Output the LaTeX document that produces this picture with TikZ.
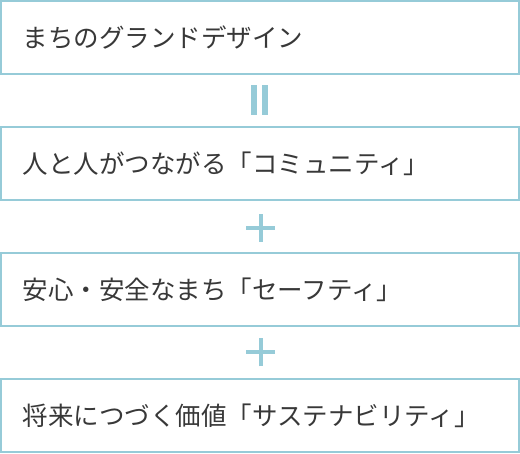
\documentclass[tikz,border=0pt]{standalone}
\usepackage{fontspec}
\newfontfamily\jpfont{Noto Sans CJK JP}
\definecolor{frameteal}{HTML}{96CBD8}
\definecolor{inkgray}{HTML}{383838}
\tikzset{
  framebox/.style={draw=frameteal, line width=2pt, rectangle,
    minimum width=518pt, minimum height=73.5pt, inner xsep=22pt,
    text width=474pt, align=left, text=inkgray,
    font=\jpfont\fontsize{25.5}{27}\selectfont},
  opline/.style={draw=frameteal, line width=4pt}
}
\begin{document}
\begin{tikzpicture}[x=1pt, y=1pt]
    \useasboundingbox (0,0) rectangle (520,454);
    \path node (grand) at (260,416.25) [framebox] {まちのグランドデザイン}
          node (community) at (260,290.5) [framebox] {人と人がつながる「コミュニティ」}
          node (safety) at (260,164.5) [framebox] {安心・安全なまち「セーフティ」}
          node (sustain) at (260,38.5) [framebox] {将来につづく価値「サステナビリティ」};
    \coordinate (equal) at (260,354);
    \coordinate (plusone) at (260.5,226);
    \coordinate (plustwo) at (260.5,101.5);
    % equal sign, turned upright
    \draw [opline, line width=5.5pt] ([xshift=-6pt,yshift=-15pt]equal) -- ++(0,30);
    \draw [opline, line width=5.5pt] ([xshift=5pt,yshift=-15pt]equal) -- ++(0,30);
    % plus signs
    \draw [opline] ([xshift=-14.5pt]plusone) -- ++(29,0);
    \draw [opline] ([yshift=-14pt]plusone) -- ++(0,28);
    \draw [opline] ([xshift=-14.5pt]plustwo) -- ++(29,0);
    \draw [opline] ([yshift=-14pt]plustwo) -- ++(0,28);
\end{tikzpicture}
\end{document}
